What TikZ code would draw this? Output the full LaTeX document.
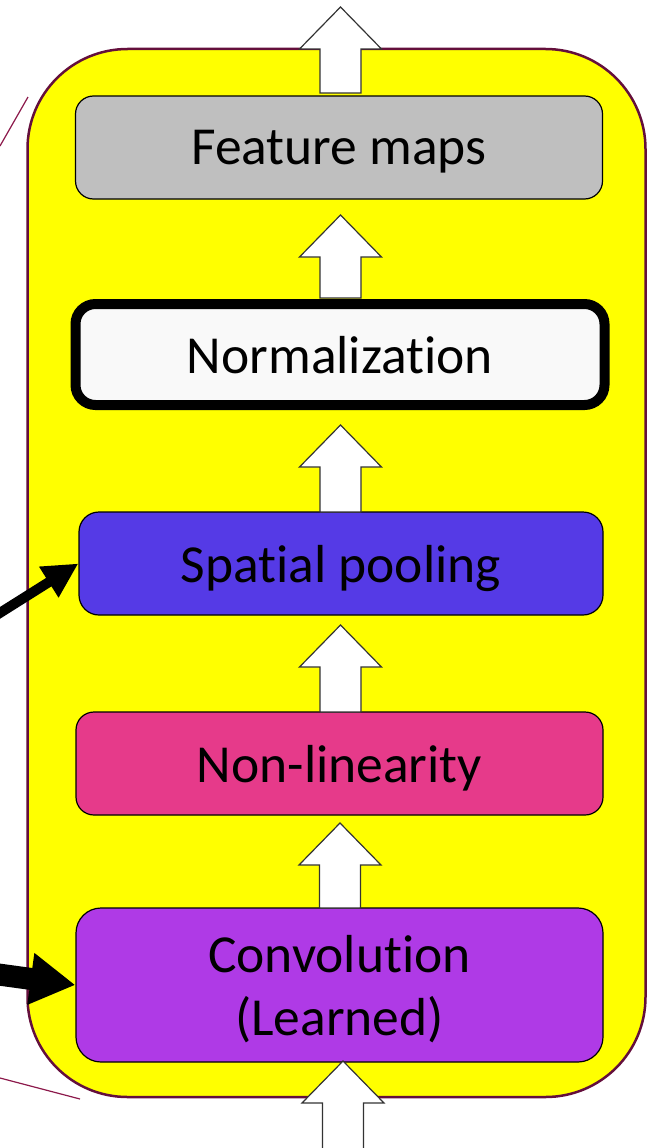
\documentclass[tikz,border=0pt]{standalone}
\usepackage{fontspec}
\setmainfont{Carlito}[RawFeature={-liga;-clig;-dlig;-calt}]
\usetikzlibrary{arrows.meta}

\definecolor{frameline}{RGB}{100,15,60}
\definecolor{calloutline}{RGB}{140,25,75}
\definecolor{framefill}{RGB}{255,255,0}
\definecolor{fmgray}{RGB}{191,191,191}
\definecolor{normfill}{RGB}{249,249,249}
\definecolor{poolblue}{RGB}{85,58,230}
\definecolor{nlpink}{RGB}{230,58,138}
\definecolor{convpurple}{RGB}{175,58,230}

% upward block arrow: #1 = base point (centre of shaft bottom), #2 = shaft length
\newcommand\blockup[2]{%
  \draw[blockarrow] (#1) ++(-20.5,0) -- ++(0,-#2) -- ++(-20.5,0)
    -- ++(41,-42) -- ++(41,42) -- ++(-20.5,0) -- ++(0,#2) -- cycle;}

\begin{document}
\begin{tikzpicture}[x=1pt,y=-1pt,
  stage/.style={draw=black, line width=1.2pt, rounded corners=18pt,
    minimum width=527pt, minimum height=103pt, inner sep=0pt, text depth=0pt,
    font=\fontsize{53.5}{63}\selectfont, text=black, align=center},
  blockarrow/.style={draw=black!80, fill=white, line width=1.2pt, line join=miter},
  feed/.style={draw=black, line cap=butt},
  callout/.style={draw=calloutline, line width=1.2pt}]
\useasboundingbox (0,0) rectangle (646,1148);

% yellow frame holding the stages
\draw[frameline, fill=framefill, line width=2.5pt, rounded corners=100pt]
  (27.5,49) rectangle (645.5,1097);

% stages of the layer (kerns keep the "ti" pairs as separate letters)
\node[stage, fill=fmgray] (fm) at (339,147.5) {Feature maps};
\node[stage, fill=normfill, line width=10pt, minimum width=529pt,
      minimum height=101pt, rounded corners=20pt] (norm) at (340,354.5) {Normalizat\kern0pt ion};
\node[stage, fill=poolblue, minimum width=524pt, rounded corners=20pt] (pool) at (341,563.5) {Spat\kern0pt ial pooling};
\node[stage, fill=nlpink] (nl) at (339.5,763.5) {Non-linearity};
\node[stage, fill=convpurple, minimum height=154pt, rounded corners=25pt] (conv) at (339.5,985)
  {Convolution\\(Learned)};

% data flow between stages
\coordinate (inbase) at (343,1160);
\coordinate (convtop) at (340,908);
\coordinate (nltop) at (340.5,712);
\coordinate (pooltop) at (340.5,512);
\coordinate (normtop) at (340.5,298);
\coordinate (fmtop) at (340.5,93);
\blockup{inbase}{57}
\blockup{convtop}{43}
\blockup{nltop}{45}
\blockup{pooltop}{45}
\blockup{normtop}{41}
\blockup{fmtop}{44}

% inputs entering from the left
\coordinate (poolsrc) at (-5,616);
\coordinate (convsrc) at (-5,974);
\draw[feed, line width=10pt, -{Triangle[length=35pt,width=34pt]}] (poolsrc) -- (pool.west);
\draw[feed, line width=22pt, -{Triangle[length=45pt,width=49pt]}] (convsrc) -- (conv.west);

% callout lines
\coordinate (ca1) at (0,146);
\coordinate (ca2) at (28,97);
\coordinate (cb1) at (0,1078);
\coordinate (cb2) at (80,1099);
\draw[callout] (ca1) -- (ca2);
\draw[callout] (cb1) -- (cb2);
\end{tikzpicture}
\end{document}
